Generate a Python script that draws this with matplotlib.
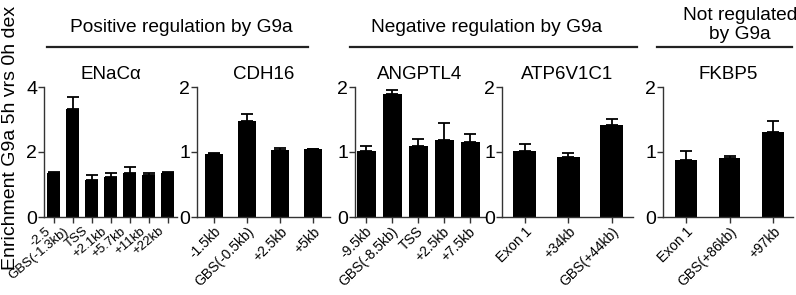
import matplotlib
matplotlib.use('Agg')
import matplotlib.pyplot as plt
import matplotlib.transforms as mtransforms
from matplotlib.lines import Line2D

plt.rcParams['font.family'] = ['Liberation Sans', 'DejaVu Sans']

# ---------------- data ----------------
genes = ['ENaCα', 'CDH16', 'ANGPTL4', 'ATP6V1C1', 'FKBP5']

enac_labels = ['-2.5', 'GBS(-1.3kb)', 'TSS', '+2.1kb', '+5.7kb', '+11kb', '+22kb']
enac_vals = [1.36, 3.31, 1.14, 1.24, 1.36, 1.29, 1.36]
enac_err = [0.02, 0.37, 0.14, 0.12, 0.19, 0.07, 0.02]

cdh16_labels = ['-1.5kb', 'GBS(-0.5kb)', '+2.5kb', '+5kb']
cdh16_vals = [0.97, 1.48, 1.03, 1.04]
cdh16_err = [0.01, 0.11, 0.03, 0.01]

angptl4_labels = ['-9.5kb', 'GBS(-8.5kb)', 'TSS', '+2.5kb', '+7.5kb']
angptl4_vals = [1.01, 1.89, 1.10, 1.19, 1.16]
angptl4_err = [0.08, 0.07, 0.10, 0.26, 0.12]

atp_labels = ['Exon 1', '+34kb', 'GBS(+44kb)']
atp_vals = [1.01, 0.93, 1.41]
atp_err = [0.12, 0.05, 0.10]

fkbp5_labels = ['Exon 1', 'GBS(+86kb)', '+97kb']
fkbp5_vals = [0.88, 0.91, 1.31]
fkbp5_err = [0.13, 0.03, 0.17]

y_label = 'Enrichment G9a 5h vrs 0h dex'
groups = ['Positive regulation by G9a', 'Negative regulation by G9a', 'Not regulated\nby G9a']

# ---------------- layout ----------------
W, H = 796, 295
fig = plt.figure(figsize=(W / 100, H / 100), dpi=100)

def px_axes(l, r, top=87, bottom=217):
    return fig.add_axes([l / W, 1 - bottom / H, (r - l) / W, (bottom - top) / H])

panels = [
    dict(box=(44, 177), labels=enac_labels, vals=enac_vals, err=enac_err,
         xlim=(-0.5, 6.5), width=0.72, ylim=4, yticks=[0, 2, 4], rot=40, dx=-5, fs=9.5),
    dict(box=(197, 330), labels=cdh16_labels, vals=cdh16_vals, err=cdh16_err,
         xlim=(-0.52, 3.52), width=0.55, ylim=2, yticks=[0, 1, 2], rot=45, dx=5, fs=10),
    dict(box=(355, 485), labels=angptl4_labels, vals=angptl4_vals, err=angptl4_err,
         xlim=(-0.44, 4.56), width=0.72, ylim=2, yticks=[0, 1, 2], rot=45, dx=3, fs=10),
    dict(box=(502, 633), labels=atp_labels, vals=atp_vals, err=atp_err,
         xlim=(-0.52, 2.49), width=0.53, ylim=2, yticks=[0, 1, 2], rot=45, dx=5, fs=10),
    dict(box=(663, 793), labels=fkbp5_labels, vals=fkbp5_vals, err=fkbp5_err,
         xlim=(-0.53, 2.46), width=0.5, ylim=2, yticks=[0, 1, 2], rot=45, dx=5, fs=10),
]

spine_col = '#333333'
for gene, p in zip(genes, panels):
    ax = px_axes(*p['box'])
    x = list(range(len(p['vals'])))
    ax.bar(x, p['vals'], width=p['width'], color='black', zorder=2)
    ax.errorbar(x, p['vals'], yerr=[[0] * len(x), p['err']], fmt='none',
                ecolor='black', elinewidth=1.3, capsize=4, capthick=1.3, zorder=1)
    ax.set_xlim(*p['xlim'])
    ax.set_ylim(0, p['ylim'])
    ax.set_yticks(p['yticks'])
    ax.set_yticklabels([str(t) for t in p['yticks']], fontsize=14)
    ax.set_xticks(x)
    ax.set_xticklabels([])
    off = mtransforms.ScaledTranslation(p['dx'] / 100, -12.5 / 100, fig.dpi_scale_trans)
    tr = ax.get_xaxis_transform() + off
    for xi, lab in zip(x, p['labels']):
        ax.text(xi, 0, lab, transform=tr, rotation=p['rot'], ha='right', va='center',
                rotation_mode='anchor', fontsize=p['fs'], clip_on=False)
    for s in ['top', 'right']:
        ax.spines[s].set_visible(False)
    for s in ['left', 'bottom']:
        ax.spines[s].set_color(spine_col)
        ax.spines[s].set_linewidth(1.0)
    ax.tick_params(axis='both', colors=spine_col, length=4, width=1.0, pad=1)
    ax.tick_params(axis='both', labelcolor='black')
    ax.set_title(gene, fontsize=13.5, pad=6)

fig.text(11 / W, 1 - 138 / H, y_label, rotation=90, ha='center', va='center', fontsize=14)

# group headers
hdr = [
    (groups[0], 181, 27, 47, 308),
    (groups[1], 487, 27, 350, 637),
]
for txt, cx, cy, x0, x1 in hdr:
    fig.text(cx / W, 1 - cy / H, txt, ha='center', va='center', fontsize=13.8)
    fig.add_artist(Line2D([x0 / W, x1 / W], [1 - 47 / H, 1 - 47 / H],
                          color='#222222', lw=1.6, transform=fig.transFigure))
fig.text(740 / W, 1 - 25 / H, groups[2], ha='center', va='center', fontsize=13.8,
         linespacing=1.1)
fig.add_artist(Line2D([657 / W, 792 / W], [1 - 47 / H, 1 - 47 / H],
                      color='#222222', lw=1.6, transform=fig.transFigure))

fig.savefig('out.png', dpi=100)
